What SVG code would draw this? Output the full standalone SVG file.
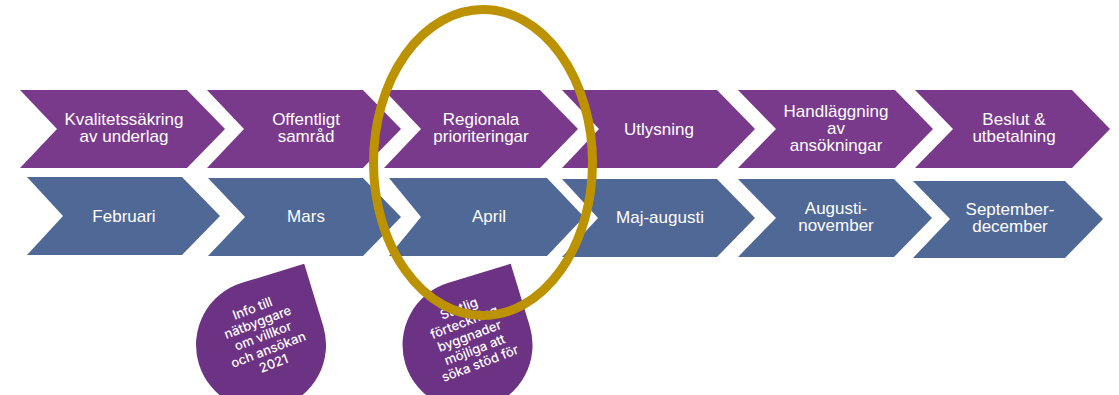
<svg xmlns="http://www.w3.org/2000/svg" width="1119" height="395" viewBox="0 0 1119 395">
<style>
.top{fill:#7a3a8c}
.bot{fill:#4f6896}
.drop{fill:#6c3283}
.t{font-family:"Liberation Sans",Arial,sans-serif;font-size:17px;fill:#ffffff;text-anchor:middle}
.d{font-family:Inter,"Liberation Sans",Arial,sans-serif;font-size:13px;font-weight:500;fill:#ffffff;text-anchor:middle}
.ring{fill:none;stroke:#bc9200;stroke-width:9}
</style>
<rect width="1119" height="395" fill="#ffffff"/>
<g id="connectors"></g>
<g id="step1"><polygon class="top" points="20,90 187,90 225,129 187,168 20,168 57,129"/><text class="t" x="124" y="125">Kvalitetssäkring</text><text class="t" x="124" y="142">av underlag</text></g>
<g id="step2"><polygon class="top" points="207,90 363,90 401,129 363,168 207,168 244,129"/><text class="t" x="306" y="125">Offentligt</text><text class="t" x="306" y="142">samråd</text></g>
<g id="step3"><polygon class="top" points="384,90 540,90 578,129 540,168 384,168 421,129"/><text class="t" x="481" y="125">Regionala</text><text class="t" x="481" y="142">prioriteringar</text></g>
<g id="step4"><polygon class="top" points="562,90 717,90 755,129 717,168 562,168 599,129"/><text class="t" x="659" y="134.5">Utlysning</text></g>
<g id="step5"><polygon class="top" points="738,90 895,90 933,129 895,168 738,168 776,129"/><text class="t" x="836" y="117">Handläggning</text><text class="t" x="836" y="134">av</text><text class="t" x="836" y="151">ansökningar</text></g>
<g id="step6"><polygon class="top" points="915,90 1072,90 1110,129 1072,168 915,168 953,129"/><text class="t" x="1014" y="125">Beslut &amp;</text><text class="t" x="1014" y="142">utbetalning</text></g>
<g id="month1"><polygon class="bot" points="27,177 182,177 220,216 182,255 27,255 63,216"/><text class="t" x="124" y="221.5">Februari</text></g>
<g id="month2"><polygon class="bot" points="208,178 363,178 401,217 363,256 208,256 245,217"/><text class="t" x="306" y="222">Mars</text></g>
<g id="month3"><polygon class="bot" points="389,178 547,178 584,217 547,256 389,256 421,217"/><text class="t" x="489" y="222">April</text></g>
<g id="month4"><polygon class="bot" points="562,179 717,179 755,218 717,257 562,257 598,218"/><text class="t" x="660" y="222.5">Maj-augusti</text></g>
<g id="month5"><polygon class="bot" points="738,179 894,179 932,218 894,257 738,257 776,218"/><text class="t" x="836" y="214">Augusti-</text><text class="t" x="836" y="231">november</text></g>
<g id="month6"><polygon class="bot" points="913,181 1065,181 1103,219 1065,258 913,258 950,219"/><text class="t" x="1010" y="215">September-</text><text class="t" x="1010" y="232">december</text></g>
<g id="note1"><path class="drop" d="M304.2,263.8 L323.2,326 A65,65 0 1 1 242,282.8 Z"/><g transform="translate(263,336) rotate(-21)"><text class="d" x="0" y="-25">Info till</text><text class="d" x="0" y="-10.3">nätbyggare</text><text class="d" x="0" y="4.4">om villkor</text><text class="d" x="0" y="19.1">och ansökan</text><text class="d" x="0" y="33.8">2021</text></g></g>
<g id="note2"><path class="drop" d="M510.7,263.8 L529.7,326 A65,65 0 1 1 448.5,282.8 Z"/><g transform="translate(469.5,336) rotate(-21)"><text class="d" x="0" y="-25">Statlig</text><text class="d" x="0" y="-10.3">förteckning</text><text class="d" x="0" y="4.4">byggnader</text><text class="d" x="0" y="19.1">möjliga att</text><text class="d" x="0" y="33.8">söka stöd för</text></g></g>
<g id="highlight"><ellipse class="ring" cx="483" cy="162.5" rx="109.5" ry="153"/></g>
</svg>
